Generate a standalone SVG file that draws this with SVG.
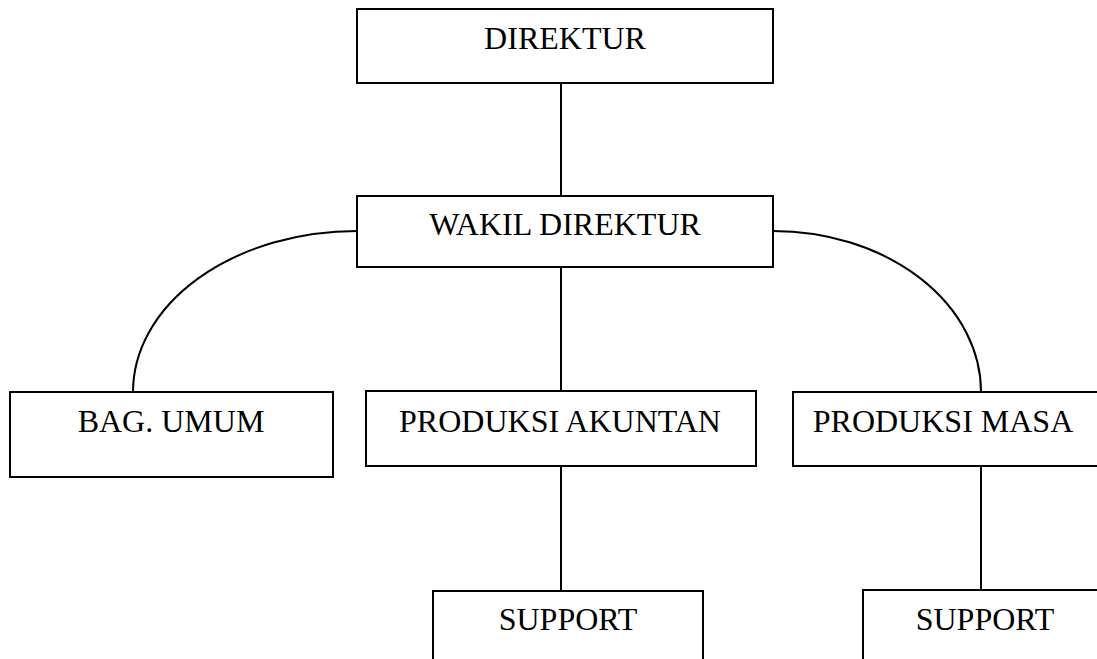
<svg xmlns="http://www.w3.org/2000/svg" width="1097" height="659" viewBox="0 0 1097 659">
<style>
.box{fill:#fff;stroke:#000;stroke-width:2}
.lbl{font-family:"Liberation Serif","Times New Roman",serif;font-size:32px;fill:#000;text-anchor:middle}
.con{fill:none;stroke:#000;stroke-width:2}
</style>
<rect width="1097" height="659" fill="#fff"/>
<g id="connectors">
<line class="con" x1="561" y1="83" x2="561" y2="196"/>
<line class="con" x1="561" y1="267" x2="561" y2="391"/>
<line class="con" x1="561" y1="466" x2="561" y2="591"/>
<line class="con" x1="981" y1="466" x2="981" y2="590"/>
<path class="con" d="M357,231 A224,161 0 0 0 133,392"/>
<path class="con" d="M773,231 A208,161 0 0 1 981,392"/>
</g>
<g id="direktur"><rect class="box" x="357" y="9" width="416" height="74"/><text class="lbl" x="565" y="49">DIREKTUR</text></g>
<g id="wakil"><rect class="box" x="357" y="196" width="416" height="71"/><text class="lbl" x="565" y="235">WAKIL DIREKTUR</text></g>
<g id="bagumum"><rect class="box" x="10" y="392" width="323" height="85"/><text class="lbl" x="171" y="432">BAG. UMUM</text></g>
<g id="akuntan"><rect class="box" x="366" y="391" width="390" height="75"/><text class="lbl" x="560" y="432">PRODUKSI AKUNTAN</text></g>
<g id="masa"><rect class="box" x="793" y="392" width="310" height="74"/><text class="lbl" x="943" y="432">PRODUKSI MASA</text></g>
<g id="support1"><rect class="box" x="433" y="591" width="270" height="90"/><text class="lbl" x="568" y="630">SUPPORT</text></g>
<g id="support2"><rect class="box" x="863" y="590" width="250" height="90"/><text class="lbl" x="985" y="630">SUPPORT</text></g>
</svg>
